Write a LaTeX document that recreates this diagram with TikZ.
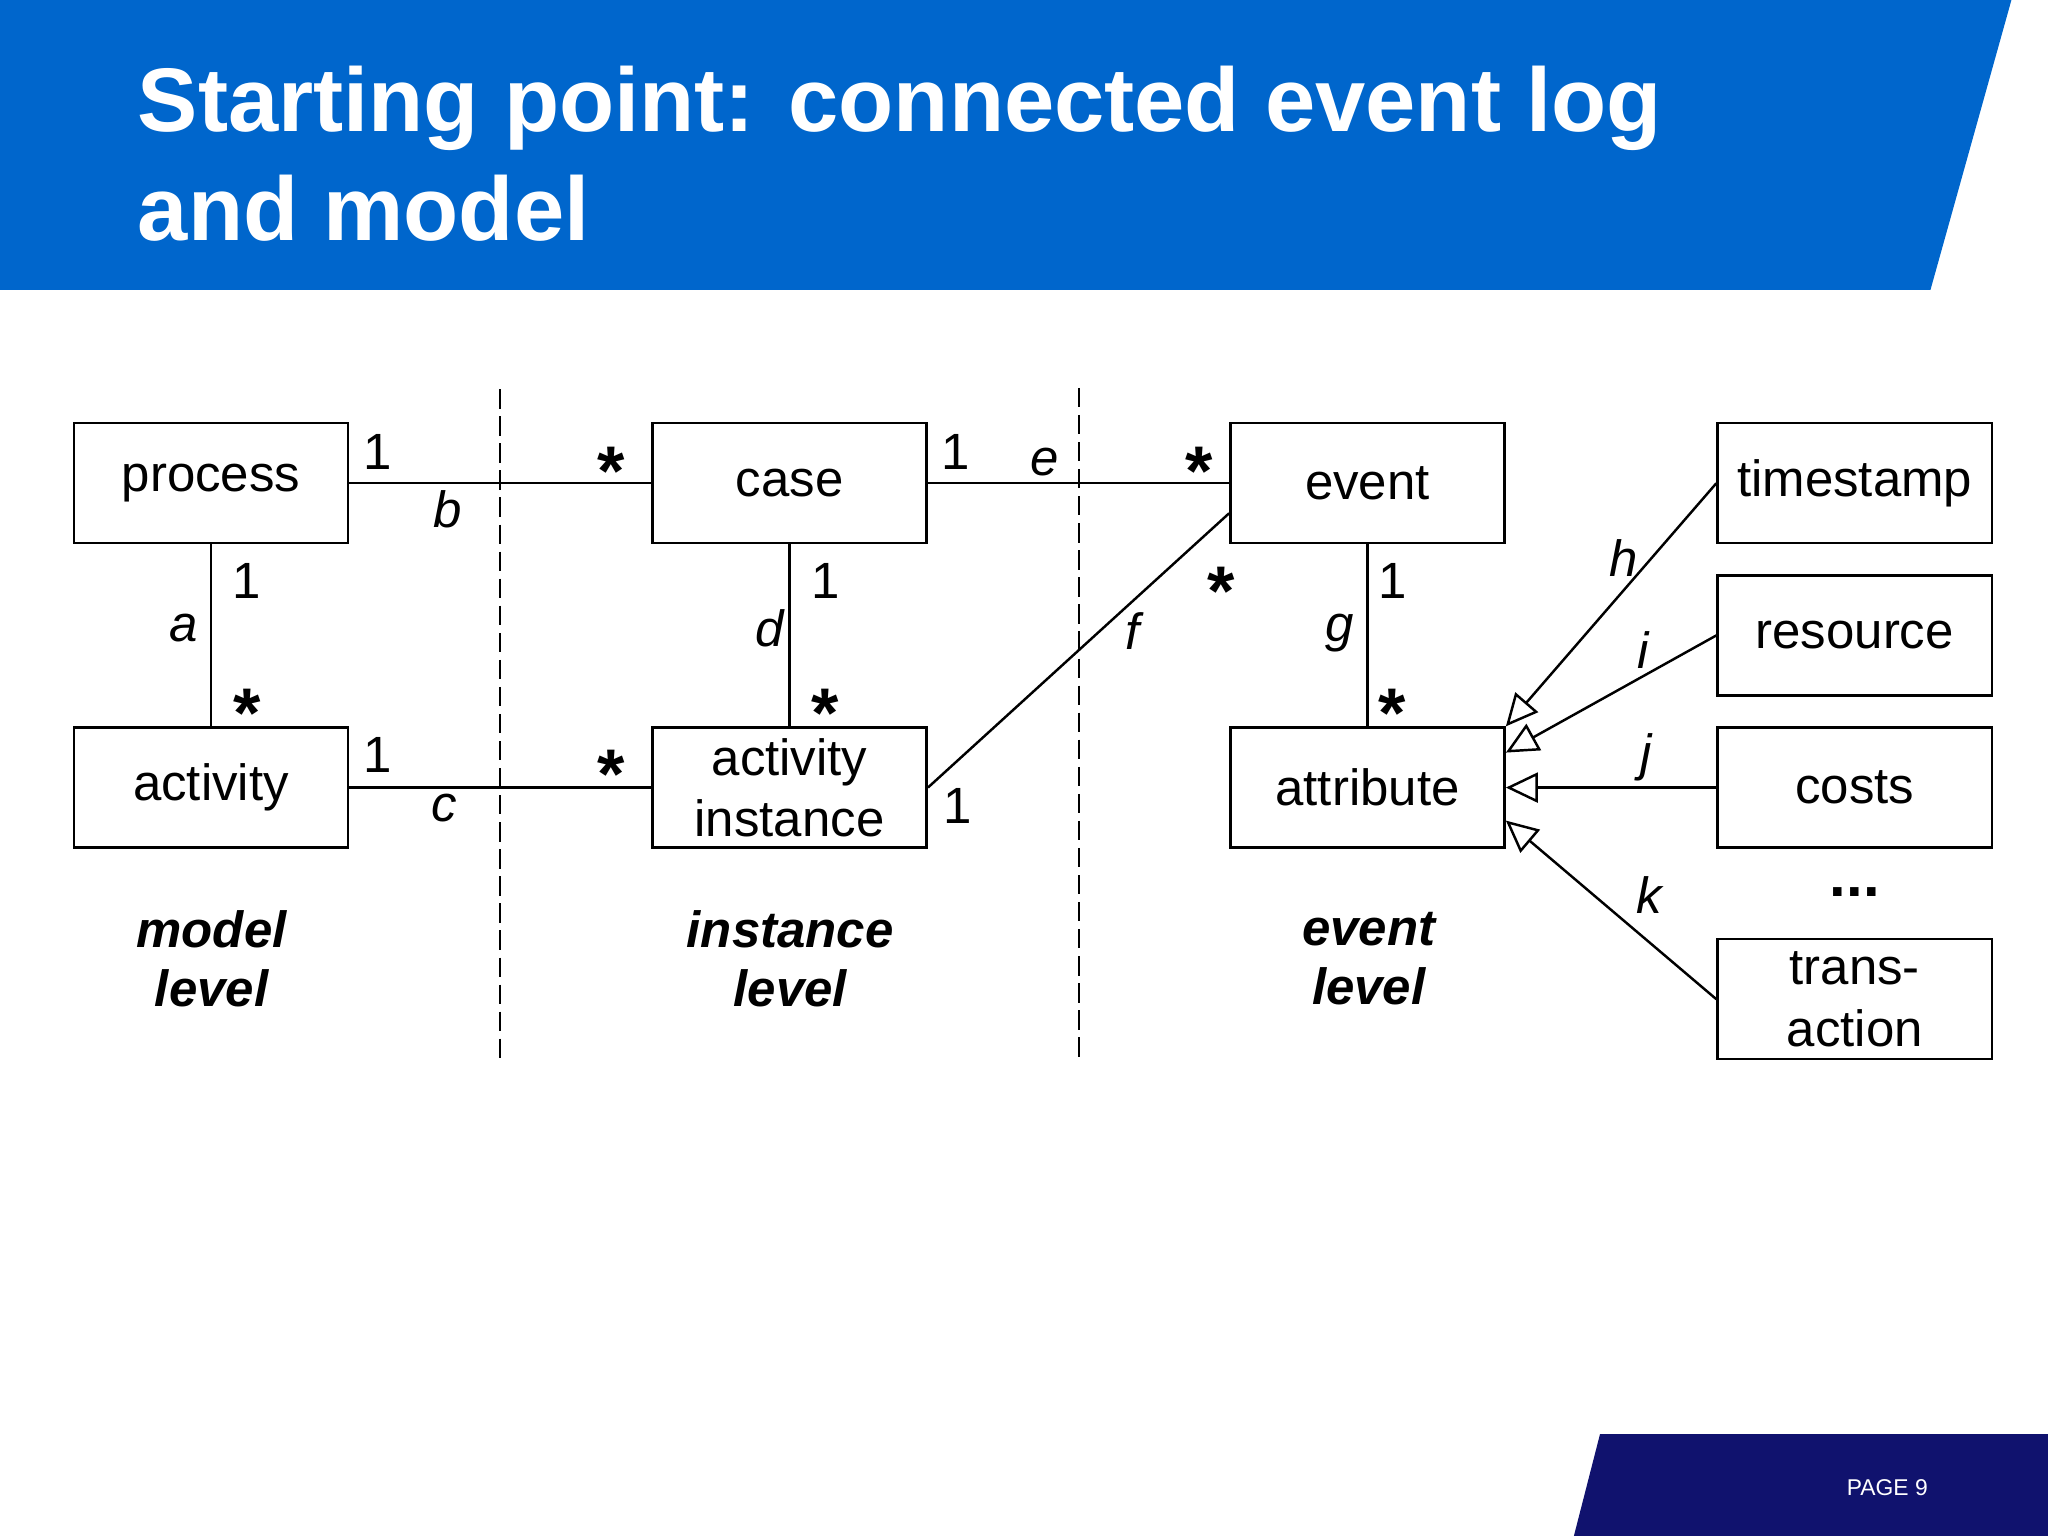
\documentclass[tikz,border=0pt]{standalone}
\usepackage{fontspec}
\setmainfont{Liberation Sans}
\usepackage{tikz}
\usetikzlibrary{arrows.meta}

\definecolor{headblue}{HTML}{0066CC}
\definecolor{footnavy}{HTML}{10126E}

\begin{document}
\begin{tikzpicture}[x=0.013061cm, y=-0.013061cm,
    box/.style={draw, line width=0.7pt, minimum width=2.743cm, minimum height=1.2cm,
      inner sep=1pt, align=center, font=\fontsize{14.5}{17.5}\selectfont},
    mult/.style={inner sep=0pt, font=\fontsize{14.5}{17.5}\selectfont},
    many/.style={inner sep=0pt, yshift=-4pt, font=\fontsize{20}{20}\selectfont\bfseries},
    role/.style={inner sep=0pt, font=\fontsize{14.5}{17.5}\selectfont\itshape},
    level/.style={inner sep=0pt, align=center, font=\fontsize{14.5}{17}\selectfont\bfseries\itshape},
    gen/.style={-{Triangle[open, length=0.32cm, width=0.3cm]}, fill=white},
    sep/.style={line width=0.7pt, dash pattern=on 5.5pt off 2.2pt}]
  \useasboundingbox (0,0) rectangle (1568,1176);

  % title bar and footer
  \fill[headblue] (0,0) -- (1540,0) -- (1478,222) -- (0,222) -- cycle;
  \node[anchor=base west, align=left, inner sep=0pt, text=white,
    font=\fontsize{25.7}{31.1}\selectfont\bfseries] (title) at (105,184)
    {Starting point: connected event log\\and model};
  \fill[footnavy] (1225,1098) -- (1568,1098) -- (1568,1176) -- (1205,1176) -- cycle;
  \node[text=white, inner sep=0pt, font=\fontsize{6.5}{7}\selectfont] (page) at (1445,1139) {PAGE 9};

  % level separators
  \coordinate (sepA top) at (383,298);
  \coordinate (sepA bot) at (383,812);
  \coordinate (sepB top) at (826,297);
  \coordinate (sepB bot) at (826,812);
  \draw[sep] (sepA top) -- (sepA bot);
  \draw[sep] (sepB top) -- (sepB bot);

  % classes
  \node[box] (process)  at (161.5,370) {process};
  \node[box] (case)     at (604.5,370) {case};
  \node[box] (event)    at (1047,370)  {event};
  \node[box] (activity) at (161.5,603) {activity};
  \node[box] (ainst)    at (604.5,603) {activity\\instance};
  \node[box] (attr)     at (1047,603)  {attribute};
  \node[box] (tstamp)   at (1420,370)  {timestamp};
  \node[box] (resource) at (1420,486.5) {resource};
  \node[box] (costs)    at (1420,603)  {costs};
  \node[box] (trans)    at (1420,765)  {trans-\\action};
  \node[inner sep=0pt, font=\fontsize{17}{17}\selectfont\bfseries] (more) at (1420,683) {...};

  % associations
  \draw[line width=0.7pt] (process) -- (case);
  \draw[line width=0.7pt] (case) -- (event);
  \draw[line width=0.7pt] (process) -- (activity);
  \draw[line width=0.7pt] (case) -- (ainst);
  \draw[line width=0.7pt] (event) -- (attr);
  \draw[line width=0.7pt] (activity) -- (ainst);
  \draw[line width=0.7pt] (ainst.east) -- ([yshift=-0.3cm]event.west);

  % generalisations
  \draw[gen, line width=0.7pt] (tstamp.west) -- (attr.north east);
  \draw[gen, line width=0.7pt] (resource.west) -- ([yshift=0.35cm]attr.east);
  \draw[gen, line width=0.7pt] (costs.west) -- (attr.east);
  \draw[gen, line width=0.7pt] (trans.west) -- ([yshift=-0.33cm]attr.east);

  % multiplicities and role names
  \node[mult] (mb1) at (289,346) {1};
  \node[many] (mb2) at (468,350) {*};
  \node[role] (rb)  at (343,390) {b};
  \node[mult] (me1) at (732,346) {1};
  \node[role] (re)  at (800,354) {e};
  \node[many] (me2) at (918,350) {*};
  \node[mult] (ma1) at (189,445) {1};
  \node[role] (ra)  at (141,481) {a};
  \node[many] (ma2) at (189,535) {*};
  \node[mult] (md1) at (632,445) {1};
  \node[role] (rd)  at (589,481) {d};
  \node[many] (md2) at (632,535) {*};
  \node[mult] (mg1) at (1066,445) {1};
  \node[role] (rg)  at (1026,485) {g};
  \node[many] (mg2) at (1066,535) {*};
  \node[mult] (mc1) at (289,578) {1};
  \node[role] (rc)  at (340,619) {c};
  \node[many] (mc2) at (468,582) {*};
  \node[mult] (mf1) at (733,617) {1};
  \node[many] (mf2) at (935,442) {*};
  \node[role] (rf)  at (867,483) {f};
  \node[role] (rh)  at (1243,427) {h};
  \node[role] (ri)  at (1258,498) {i};
  \node[role] (rj)  at (1260,580) {j};
  \node[role] (rk)  at (1263,685) {k};

  % levels
  \node[level] (mlevel) at (162,734)  {model\\level};
  \node[level] (ilevel) at (605,734)  {instance\\level};
  \node[level] (elevel) at (1048,734) {event\\level};
\end{tikzpicture}
\end{document}
